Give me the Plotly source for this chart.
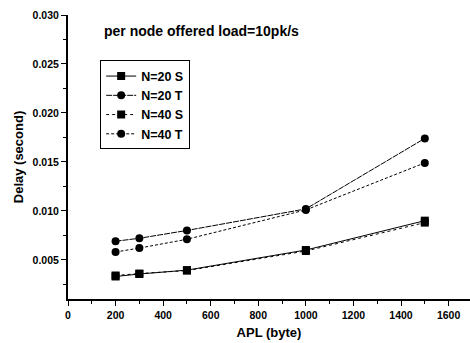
import plotly.graph_objects as go

# Average packet length (bytes)
apl = [200, 300, 500, 1000, 1500]

# Delay (seconds) per configuration
delay_n20_s = [0.0033, 0.00355, 0.00395, 0.0060, 0.0090]
delay_n20_t = [0.0069, 0.0072, 0.0080, 0.0102, 0.0174]
delay_n40_s = [0.0034, 0.0036, 0.0039, 0.0059, 0.0088]
delay_n40_t = [0.0058, 0.0062, 0.0071, 0.0101, 0.0149]

series = [
    ("N=20 S", delay_n20_s, "square", "solid"),
    ("N=20 T", delay_n20_t, "circle", "6px,1px"),
    ("N=40 S", delay_n40_s, "square", "dot"),
    ("N=40 T", delay_n40_t, "circle", "3px,2px"),
]

fig = go.Figure()
for name, ys, sym, dash in series:
    fig.add_trace(go.Scatter(
        x=apl, y=ys, name=name, mode="lines+markers",
        line=dict(color="black", width=1, dash=dash),
        marker=dict(symbol=sym, size=8, color="black"),
    ))

font_family = "Liberation Sans, Arial, sans-serif"

fig.update_layout(
    width=470, height=343,
    margin=dict(l=68, r=0, t=15, b=44),
    paper_bgcolor="white", plot_bgcolor="white",
    font=dict(family=font_family, color="black", size=11),
    showlegend=True,
    legend=dict(
        x=0.08, y=0.84, xanchor="left", yanchor="top",
        bgcolor="white", bordercolor="black", borderwidth=1,
        font=dict(size=12.5, family=font_family, color="black", weight="bold"),
        tracegroupgap=0, itemsizing="trace",
    ),
    annotations=[dict(
        text="per node offered load=10pk/s", x=0.085, y=0.945,
        xref="paper", yref="paper", xanchor="left", yanchor="middle",
        showarrow=False, font=dict(size=14, family=font_family, weight="bold"),
    )],
)

tick_font = dict(size=10.5, family=font_family, weight="bold")
title_font = dict(size=13, family=font_family, weight="bold")

fig.update_xaxes(
    range=[0, 1690], tickvals=[0, 200, 400, 600, 800, 1000, 1200, 1400, 1600],
    showgrid=False, zeroline=False, showline=True, linecolor="black", linewidth=2,
    ticks="outside", ticklen=5, tickwidth=1, tickcolor="black",
    minor=dict(dtick=100, ticks="outside", ticklen=3, tickcolor="black", showgrid=False),
    title=dict(text="APL (byte)", font=title_font, standoff=8),
    tickfont=tick_font,
)
fig.update_yaxes(
    range=[0.001, 0.030], tickvals=[0.005, 0.010, 0.015, 0.020, 0.025, 0.030],
    tickformat=".3f",
    showgrid=False, zeroline=False, showline=True, linecolor="black", linewidth=2,
    ticks="outside", ticklen=5, tickwidth=1, tickcolor="black",
    minor=dict(dtick=0.0025, tick0=0, ticks="outside", ticklen=3, tickcolor="black", showgrid=False),
    title=dict(text="Delay (second)", font=title_font, standoff=6),
    tickfont=tick_font,
)

fig.write_html("out.html")
